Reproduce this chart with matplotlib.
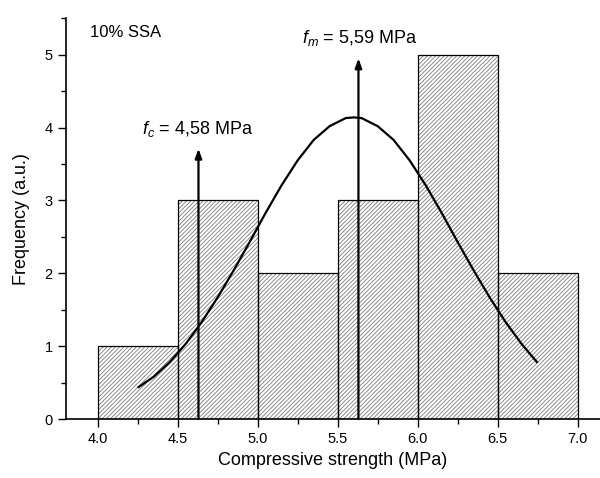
import matplotlib
matplotlib.use("Agg")
from matplotlib import pyplot as plt
from matplotlib.ticker import MultipleLocator, FormatStrFormatter

plt.rcParams['font.family'] = ['Liberation Sans', 'DejaVu Sans']
plt.rcParams['mathtext.fontset'] = 'custom'
plt.rcParams['mathtext.rm'] = 'Liberation Sans'
plt.rcParams['mathtext.it'] = 'Liberation Sans:italic'
plt.rcParams['hatch.linewidth'] = 0.6

## histogram data ##
bin_left = [4.0, 4.5, 5.0, 5.5, 6.0, 6.5]
bin_width = 0.5
counts = [1, 3, 2, 3, 5, 2]

## fitted normal curve ##
curve_x = [4.25, 4.35, 4.45, 4.55, 4.65, 4.75, 4.85, 4.95, 5.05, 5.15, 5.25, 5.35, 5.45, 5.55,
           5.6, 5.65, 5.75, 5.85, 5.95, 6.05, 6.15, 6.25, 6.35, 6.45, 6.55, 6.65, 6.75]
curve_y = [0.43, 0.58, 0.78, 1.03, 1.33, 1.67, 2.04, 2.43, 2.83, 3.21, 3.55, 3.83, 4.02, 4.13,
           4.14, 4.13, 4.02, 3.83, 3.55, 3.21, 2.83, 2.43, 2.04, 1.67, 1.33, 1.03, 0.77]

## characteristic / mean strength arrows ##
arrow_x = [4.63, 5.63]
arrow_top = [3.71, 4.95]
arrow_text = [r'$f_c$ = 4,58 MPa', r'$f_m$ = 5,59 MPa']
text_pos = [(4.28, 3.85), (5.28, 5.09)]

fig = plt.figure(figsize=(6, 4.78), dpi=100)
ax = fig.add_axes([0.1095, 0.1234, 0.8905, 0.8383])

# hatch in grey, outline in black
ax.bar(bin_left, counts, width=bin_width, align='edge', color='white',
       edgecolor='#7a7a7a', hatch='////////', linewidth=0)
ax.bar(bin_left, counts, width=bin_width, align='edge', fill=False,
       edgecolor='black', linewidth=0.9)

ax.plot(curve_x, curve_y, color='black', linewidth=1.6,
        solid_capstyle='butt', solid_joinstyle='round')

for xa, ya in zip(arrow_x, arrow_top):
    ax.annotate('', xy=(xa, ya), xytext=(xa, 0),
                arrowprops=dict(arrowstyle='-|>,head_length=0.55,head_width=0.2',
                                color='black', linewidth=1.6, shrinkA=0, shrinkB=0))
for txt, pos in zip(arrow_text, text_pos):
    ax.text(pos[0], pos[1], txt, fontsize=13, ha='left', va='bottom')

ax.text(3.95, 5.3, '10% SSA', fontsize=12, ha='left', va='center')

ax.set_xlim(3.8, 7.14)
ax.set_ylim(0, 5.5)
ax.xaxis.set_major_locator(MultipleLocator(0.5))
ax.xaxis.set_minor_locator(MultipleLocator(0.25))
ax.yaxis.set_major_locator(MultipleLocator(1))
ax.yaxis.set_minor_locator(MultipleLocator(0.5))
ax.xaxis.set_major_formatter(FormatStrFormatter('%.1f'))
ax.tick_params(which='major', direction='out', length=6, width=1, labelsize=10.5)
ax.tick_params(which='minor', direction='out', length=3.5, width=1)
ax.spines['top'].set_visible(False)
ax.spines['right'].set_visible(False)
ax.spines['left'].set_linewidth(1.2)
ax.spines['bottom'].set_linewidth(1.2)

ax.set_xlabel('Compressive strength (MPa)', fontsize=13, labelpad=4)
ax.set_ylabel('Frequency (a.u.)', fontsize=13, labelpad=10)

fig.savefig('out.png', dpi=100)
